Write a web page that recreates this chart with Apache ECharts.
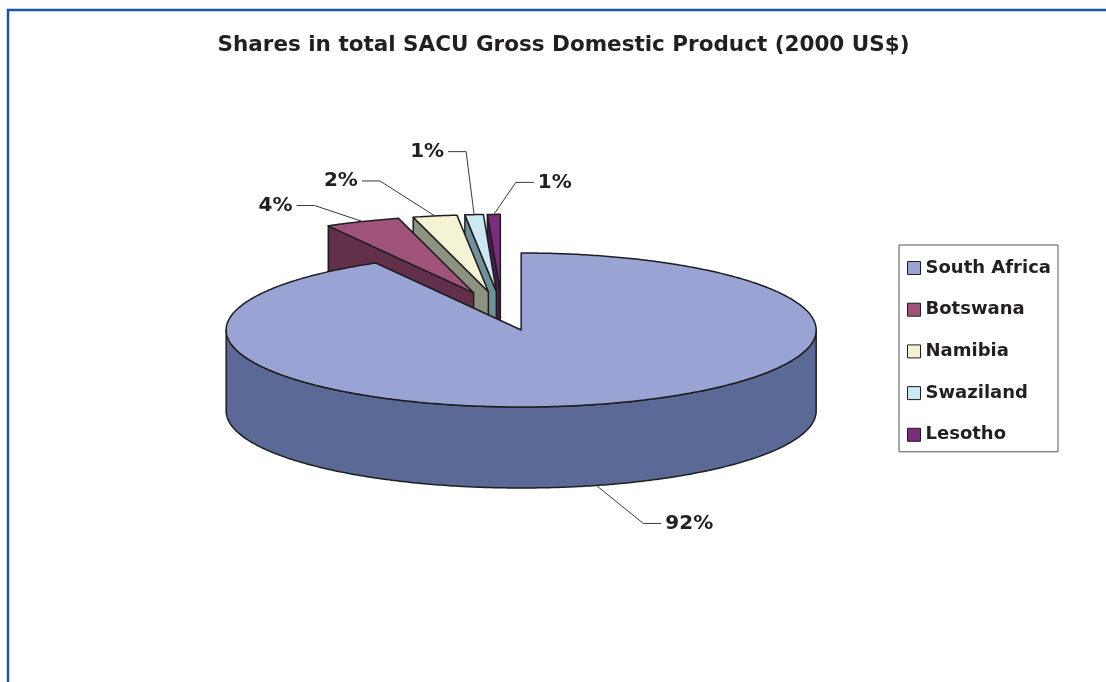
<!DOCTYPE html>
<html>
<head>
<meta charset="utf-8">
<script src="https://cdn.jsdelivr.net/npm/echarts@6/dist/echarts.min.js"></script>
<style>
  html, body { margin: 0; padding: 0; background: #fff; }
  #chart { width: 1106px; height: 682px; }
</style>
</head>
<body>
<div id="chart"></div>
<script>
// Shares of SACU GDP, 2000 US$ (percent)
const categories = ['South Africa', 'Botswana', 'Namibia', 'Swaziland', 'Lesotho'];
const gdpShares = [91.8, 4.1, 2.4, 1.0, 0.7];

// Face colours: top surfaces and darker side walls
const topColors = ['#9AA4D4', '#A0537A', '#F5F3D3', '#CBE8F4', '#7B2C7F'];
const wallColors = ['#5B6996', '#62304A', '#8D9380', '#6E919A', '#4C1B4E'];

// Leader-line elbow offsets from each slice's rim point (label layout)
const leaderBends = [[47, 38], [-48, -16], [-55, -35], [-8, -63], [22, -32]];

// 3D pie geometry: ellipse centre, radii, thickness and explosion fraction
const pie = { cx: 502, cy: 311, rx: 295, ry: 77, depth: 81, explode: 0.255 };
const FONT = '"DejaVu Sans", Verdana, sans-serif';
const INK = '#231F20';
const EDGE = '#1E1E1E';

const total = gdpShares.reduce((a, b) => a + b, 0);
let acc = 0;
const slices = gdpShares.map((v, i) => {
  const a0 = acc / total * Math.PI * 2;
  acc += v;
  const a1 = acc / total * Math.PI * 2;
  const mid = (a0 + a1) / 2;
  return {
    i, a0, a1, mid,
    ox: pie.rx * pie.explode * Math.sin(mid),
    oy: -pie.ry * pie.explode * Math.cos(mid)
  };
});

// Angles run clockwise from 12 o'clock
function pt(s, theta, r, dz) {
  return [
    pie.cx + s.ox + pie.rx * r * Math.sin(theta),
    pie.cy + s.oy - pie.ry * r * Math.cos(theta) + dz
  ];
}
function arc(s, from, to, dz) {
  const n = Math.max(2, Math.ceil(Math.abs(to - from) / 0.01));
  const out = [];
  for (let k = 0; k <= n; k++) out.push(pt(s, from + (to - from) * k / n, 1, dz));
  return out;
}
function face(points, fill) {
  return {
    type: 'polygon',
    shape: { points },
    style: { fill, stroke: EDGE, lineWidth: 1.5, lineJoin: 'round' }
  };
}

function renderSlice(s) {
  const children = [];
  const d = pie.depth;
  const apexTop = pt(s, 0, 0, 0), apexBot = pt(s, 0, 0, d);
  // radial wall on the leading edge, when it faces the viewer
  if (Math.sin(s.a0) < -1e-6) {
    children.push(face([apexTop, pt(s, s.a0, 1, 0), pt(s, s.a0, 1, d), apexBot], wallColors[s.i]));
  }
  // radial wall on the trailing edge
  if (Math.sin(s.a1) > 1e-6) {
    children.push(face([apexTop, pt(s, s.a1, 1, 0), pt(s, s.a1, 1, d), apexBot], wallColors[s.i]));
  }
  // curved outer wall, front half only
  const from = Math.max(s.a0, Math.PI / 2), to = Math.min(s.a1, Math.PI * 1.5);
  if (to > from) {
    const upper = arc(s, from, to, 0);
    const lower = arc(s, to, from, d);
    children.push(face(upper.concat(lower), wallColors[s.i]));
  }
  // top surface
  children.push(face([apexTop].concat(arc(s, s.a0, s.a1, 0)), topColors[s.i]));
  return { type: 'group', children };
}

function renderLabel(s) {
  const back = Math.cos(s.mid) > 0;
  const anchor = pt(s, s.mid, 1, back ? 0 : pie.depth);
  const bend = leaderBends[s.i];
  const elbow = [anchor[0] + bend[0], anchor[1] + bend[1]];
  const dir = bend[0] < 0 ? -1 : 1;
  const end = [elbow[0] + dir * 18, elbow[1]];
  const pct = Math.round(gdpShares[s.i] / total * 100) + '%';
  return {
    type: 'group',
    children: [
      {
        type: 'polyline',
        shape: { points: [anchor, elbow, end] },
        style: { fill: null, stroke: '#3A3A3A', lineWidth: 1 }
      },
      {
        type: 'text',
        style: {
          x: end[0] + dir * 4, y: end[1],
          text: pct,
          fill: INK,
          fontFamily: FONT, fontWeight: 'bold', fontSize: 20,
          align: dir < 0 ? 'right' : 'left',
          verticalAlign: 'middle'
        }
      }
    ]
  };
}

// paint back slices first
const order = slices.slice().sort((p, q) => Math.cos(q.mid) - Math.cos(p.mid));
const sliceSeries = order.map((s, rank) => ({
  type: 'custom',
  name: categories[s.i],
  coordinateSystem: 'none',
  silent: true,
  z: 2 + rank,
  itemStyle: { color: topColors[s.i] },
  data: [gdpShares[s.i]],
  renderItem: () => renderSlice(s)
}));

const labelSeries = {
  type: 'custom',
  name: 'labels',
  coordinateSystem: 'none',
  silent: true,
  z: 20,
  data: slices.map(s => s.i),
  renderItem: (params) => renderLabel(slices[params.dataIndex])
};

const chart = echarts.init(document.getElementById('chart'), null, { renderer: 'canvas' });
chart.setOption({
  animation: false,
  backgroundColor: '#ffffff',
  title: {
    text: 'Shares in total SACU Gross Domestic Product (2000 US$)',
    left: 563.5,
    top: 34,
    padding: 0,
    textAlign: 'center',
    textStyle: { fontFamily: FONT, fontWeight: 'bold', fontSize: 21.5, color: INK }
  },
  legend: {
    data: categories,
    orient: 'vertical',
    left: 899,
    top: 245,
    padding: [13, 7, 7, 8],
    itemGap: 21.7,
    itemWidth: 13,
    itemHeight: 13,
    icon: 'rect',
    borderColor: '#555555',
    borderWidth: 1,
    selectedMode: false,
    itemStyle: { borderColor: EDGE, borderWidth: 1 },
    textStyle: { fontFamily: FONT, fontWeight: 'bold', fontSize: 18, lineHeight: 20, color: INK }
  },
  graphic: [{
    type: 'rect',
    shape: { x: 8, y: 10, width: 1300, height: 900 },
    style: { fill: null, stroke: '#1A54A6', lineWidth: 2.5 },
    silent: true
  }],
  series: sliceSeries.concat([labelSeries])
});
</script>
</body>
</html>
